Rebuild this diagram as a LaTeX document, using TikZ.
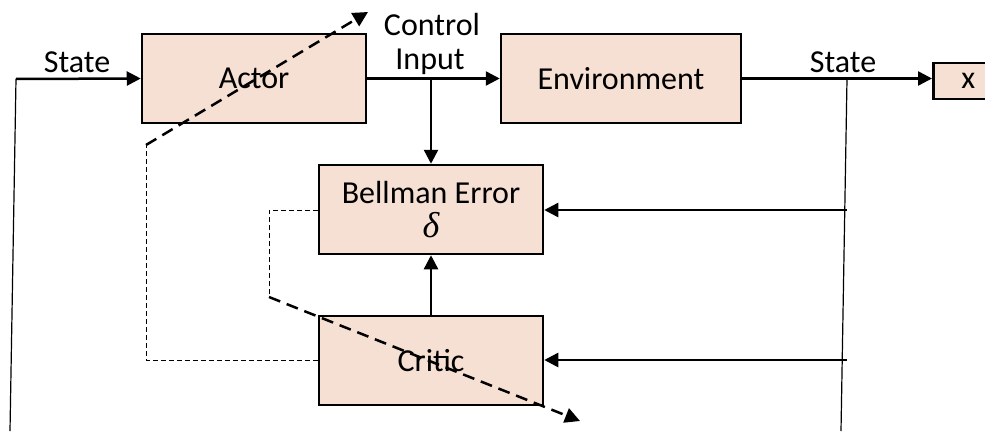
\documentclass[tikz,border=0pt]{standalone}
\usepackage{fontspec}
\setmainfont{Carlito}
\newfontfamily\greekit{Liberation Serif}
\usetikzlibrary{arrows.meta}
\definecolor{boxfill}{RGB}{246,224,211}
\begin{document}
\begin{tikzpicture}[x=1pt,y=-1pt,
  txt/.style={font=\fontsize{32}{34}\selectfont},
  blk/.style={draw,line width=2.5pt,fill=boxfill,minimum width=224pt,minimum height=89pt,inner sep=0pt,text depth=0pt,txt},
  wire/.style={line width=2.5pt},
  arr/.style={wire,-{Triangle[length=14pt,width=14pt]}},
  thin/.style={line width=1.2pt},
  adapt/.style={line width=2.5pt,dash pattern=on 12pt off 7pt,-{Triangle[length=15pt,width=15pt]}},
  guide/.style={line width=1pt,dash pattern=on 5pt off 3pt}]
\useasboundingbox (0,0) rectangle (985,431);
\clip (0,0) rectangle (985,431);

% blocks
\node[blk] (actor) at (254,78.5) {Actor};
\node[blk,minimum width=240pt] (env) at (621,78.5) {Environment};
\node[blk,align=center] (bell) at (431,209.5) {Bellman Error\\{\greekit\itshape\fontsize{36}{34}\selectfont δ}};
\node[blk] (critic) at (431,360.5) {Critic};
\node[draw,line width=2.5pt,fill=boxfill,anchor=west,minimum width=70pt,minimum height=36pt,inner sep=0pt,text depth=0pt,txt] (xout) at (932,81) {x\hspace{24pt}};

% labels
\node[txt] (lstate) at (77,62) {State};
\node[txt] (lctrl) at (432,25) {Control};
\node[txt] (linput) at (430,62) {Input};
\node[txt] (rstate) at (843,62) {State};

% junctions
\coordinate (lfb) at (16,79);
\coordinate (lbot) at (10,431);
\coordinate (uj) at (431,79);
\coordinate (rj) at (847,79);
\coordinate (rbot) at (841,431);
\coordinate (rb) at (847,210);
\coordinate (rc) at (847,360);

% signal path
\draw[arr] (lfb) -- (actor.west);
\draw[thin] (lfb) -- (lbot);
\draw[arr] (actor.east) -- (env.west);
\draw[arr] (uj) -- (bell.north);
\draw[arr] (env.east) -- (xout.west |- env.east);
\draw[thin] (rj) -- (rbot);
\draw[arr] (rb) -- (bell.east |- rb);
\draw[arr] (rc) -- (critic.east |- rc);
\draw[arr] (critic.north) -- (bell.south);

% adaptation paths
\coordinate (a1) at (146,145);
\coordinate (a2) at (368,12);
\coordinate (c1) at (269,297);
\coordinate (c2) at (580,421);
\draw[guide] (critic.west |- 0,360) -| (a1);
\draw[guide] (bell.west |- 0,210) -| (c1);
\draw[adapt] (a1) -- (a2);
\draw[adapt] (c1) -- (c2);
\end{tikzpicture}
\end{document}
